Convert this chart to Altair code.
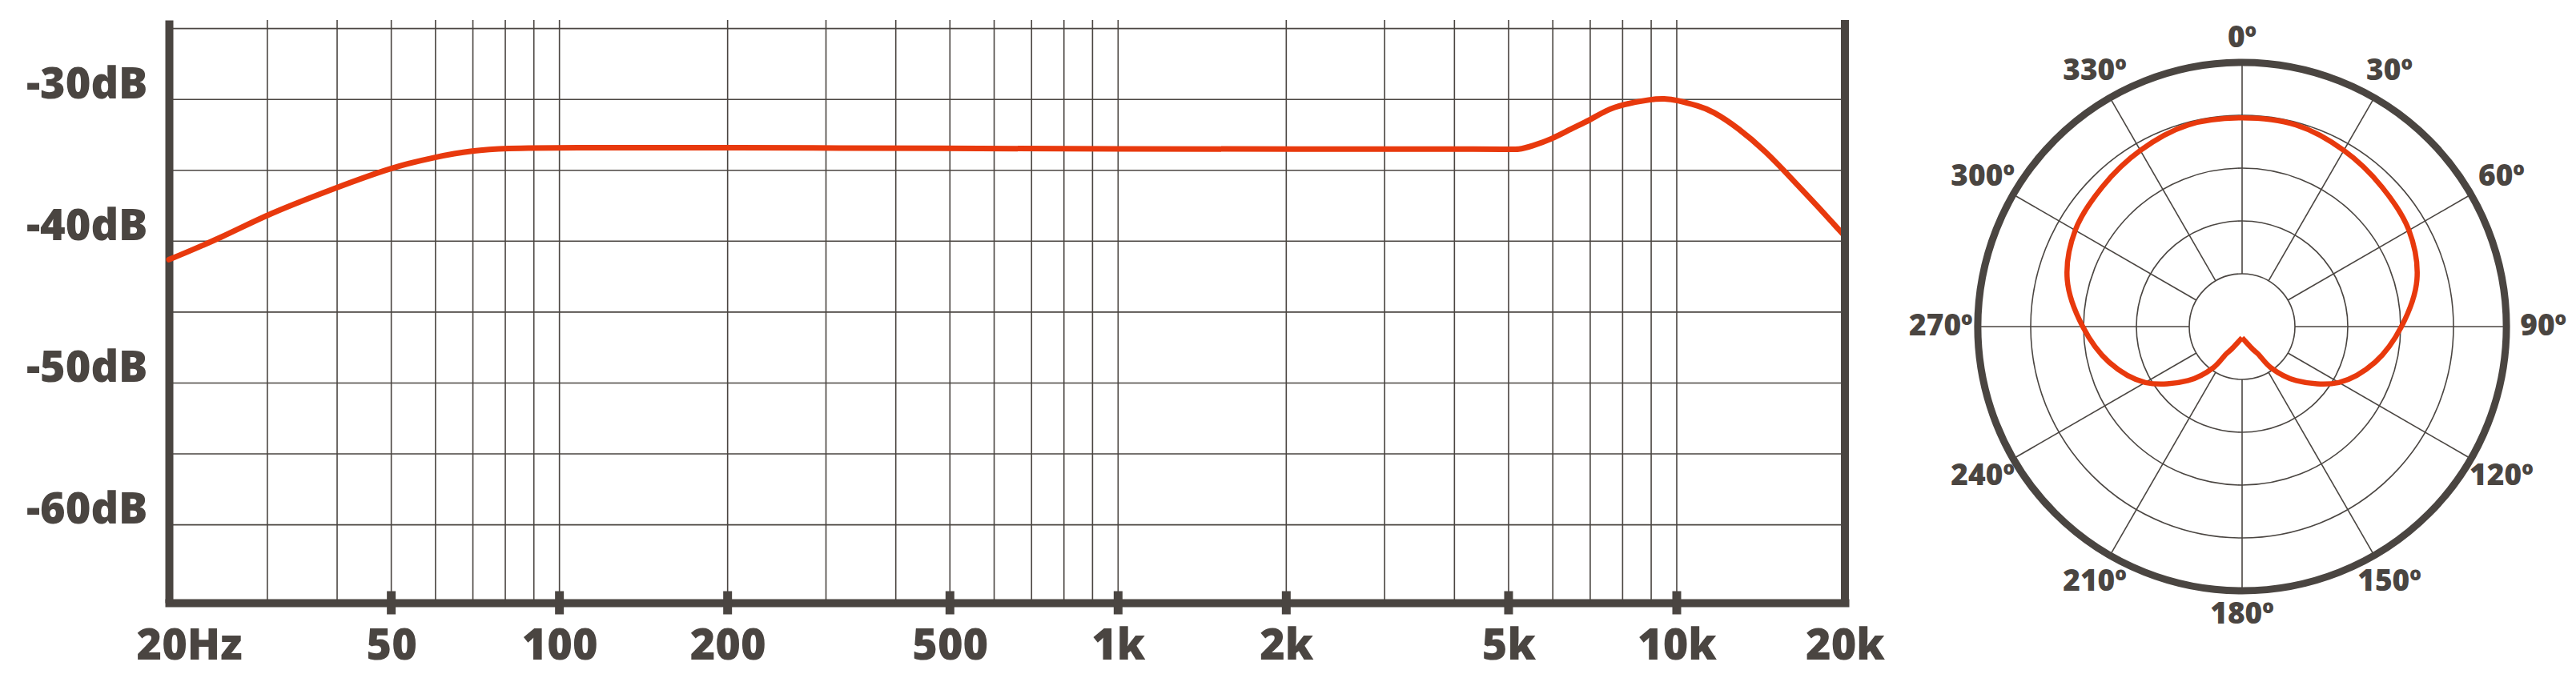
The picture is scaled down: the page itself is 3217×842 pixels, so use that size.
import altair as alt
import pandas as pd

INK = "#4a4541"
RED = "#e8390d"
FONT = "Open Sans"

# frequency response (Hz, dB)
freq_hz = [20, 25, 30, 40, 50, 60, 70, 80, 100, 200, 500, 1000, 2000, 5000,
           5200, 5500, 6000, 6450, 7000, 7450, 8000, 9000, 9500, 10000, 10950,
           11560, 12900, 14400, 16070, 17950, 20000]
level_db = [-41.3, -39.7, -38.1, -36.2, -34.8, -34.05, -33.6, -33.45, -33.4,
            -33.4, -33.45, -33.5, -33.5, -33.5, -33.56, -33.3, -32.77, -32.1,
            -31.45, -30.79, -30.36, -29.98, -29.94, -30.04, -30.47, -30.79,
            -32.02, -33.63, -35.6, -37.62, -39.65]

grid_freqs = [30, 40, 50, 60, 70, 80, 90, 100,
              200, 300, 400, 500, 600, 700, 800, 900, 1000,
              2000, 3000, 4000, 5000, 6000, 7000, 8000, 9000, 10000]
grid_db = [-25, -30, -35, -40, -45, -50, -55, -60]
label_freqs = [20, 50, 100, 200, 500, 1000, 2000, 5000, 10000, 20000]
tick_freqs = [50, 100, 200, 500, 1000, 2000, 5000, 10000]
label_db = [-30, -40, -50, -60]
DB_MIN, DB_MAX = -65.5, -24.4

# polar pattern, right half (degrees, relative radius; outer ring = 1)
polar_angles = [0, 15, 30, 45, 60, 75, 90, 105, 120, 135, 145, 150, 155, 165, 180]
polar_radius = [0.79, 0.79, 0.77, 0.748, 0.729, 0.685, 0.603, 0.521, 0.423,
                0.289, 0.19, 0.118, 0.094, 0.062, 0.042]
ring_radius = [0.2, 0.4, 0.6, 0.8]
spoke_angles = [0, 30, 60, 90, 120, 150, 180, 210, 240, 270, 300, 330]
spoke_labels = ["0º", "30º", "60º", "90º", "120º", "150º", "180º",
                "210º", "240º", "270º", "300º", "330º"]

# ---- frequency response ----
xs = alt.Scale(type="log", domain=[20, 20000], nice=False)
ys = alt.Scale(domain=[DB_MIN, DB_MAX], nice=False, zero=False)

x_axis = alt.Axis(
    values=label_freqs,
    labelExpr="datum.value == 20 ? '20Hz' : datum.value >= 1000 ? (datum.value / 1000) + 'k' : datum.value + ''",
    grid=False, ticks=False, title=None,
    domainWidth=10, domainColor=INK, domainCap="square",
    labelFont=FONT, labelFontSize=54, labelFontWeight=800, labelColor=INK,
    labelBaseline="alphabetic", labelPadding=70, labelFlush=False,
    labelOverlap=False,
    labelOffset={"condition": {"test": "datum.value == 20", "value": 25}, "value": 0},
)
y_axis = alt.Axis(
    values=label_db,
    labelExpr="datum.value + 'dB'",
    grid=False, ticks=False, title=None,
    domainWidth=10, domainColor=INK,
    labelFont=FONT, labelFontSize=54, labelFontWeight=800, labelColor=INK,
    labelBaseline="alphabetic", labelPadding=27, labelOffset=-2,
)

fx = alt.X("freq:Q", scale=xs, axis=x_axis)
fy = alt.Y("db:Q", scale=ys, axis=y_axis)

vgrid = alt.Chart(pd.DataFrame({"freq": grid_freqs})).mark_rule(
    color=INK, strokeWidth=1.6).encode(x=fx)
hgrid = alt.Chart(pd.DataFrame({"db": grid_db})).mark_rule(
    color=INK, strokeWidth=1.6).encode(y=fy)
border = alt.Chart(pd.DataFrame({"freq": [20000]})).mark_rule(
    color=INK, strokeWidth=10).encode(x=fx)
ticks = alt.Chart(pd.DataFrame({"freq": tick_freqs, "db": [DB_MIN] * len(tick_freqs)})).mark_tick(
    orient="vertical", size=29, thickness=11, color=INK, opacity=1).encode(x=fx, y=fy)
curve = alt.Chart(pd.DataFrame({"freq": freq_hz, "db": level_db})).mark_line(
    color=RED, strokeWidth=7, interpolate="basis", strokeCap="round").encode(x=fx, y=fy)

freq = alt.layer(vgrid, hgrid, curve, border, ticks).properties(width=2093, height=728)

# ---- polar pattern ----
HALF = 383
DOM = HALF / 330
ps = alt.Scale(domain=[-DOM, DOM], nice=False, zero=False)
rs = alt.Scale(type="linear", domain=[0, DOM], range=[0, HALF])

rings = alt.Chart(pd.DataFrame({"r": ring_radius})).mark_arc(
    theta=0, theta2=6.2832, filled=False, color=INK, strokeWidth=1.6).encode(
    radius=alt.Radius("r:Q", scale=rs, stack=False))
outer = alt.Chart(pd.DataFrame({"r": [1.0]})).mark_arc(
    theta=0, theta2=6.2832, filled=False, color=INK, strokeWidth=9).encode(
    radius=alt.Radius("r:Q", scale=rs, stack=False))

spokes = alt.Chart(pd.DataFrame({"angle": spoke_angles})).transform_calculate(
    rad="datum.angle * PI / 180",
).transform_calculate(
    x="0.2 * sin(datum.rad)", y="0.2 * cos(datum.rad)",
    x2="sin(datum.rad)", y2="cos(datum.rad)",
).mark_rule(color=INK, strokeWidth=1.6).encode(
    x=alt.X("x:Q", scale=ps, axis=None), y=alt.Y("y:Q", scale=ps, axis=None),
    x2="x2:Q", y2="y2:Q")

labels = alt.Chart(pd.DataFrame({"angle": spoke_angles, "label": spoke_labels})).transform_calculate(
    rad="datum.angle * PI / 180",
).transform_calculate(
    lr="1.09 + 0.05 * abs(sin(datum.rad))",
).transform_calculate(
    lx="datum.lr * sin(datum.rad)", ly="datum.lr * cos(datum.rad)",
).mark_text(font=FONT, fontSize=37, fontWeight=800, color=INK,
            align="center", baseline="middle").encode(
    x=alt.X("lx:Q", scale=ps, axis=None), y=alt.Y("ly:Q", scale=ps, axis=None),
    text="label:N")

left_angles = [-a for a in reversed(polar_angles)]
left_radius = list(reversed(polar_radius))
pattern_df = pd.DataFrame({
    "angle": left_angles + polar_angles[1:],
    "r": left_radius + polar_radius[1:],
})
pattern = alt.Chart(pattern_df).transform_calculate(
    rad="datum.angle * PI / 180",
).transform_calculate(
    x="datum.r * sin(datum.rad)", y="datum.r * cos(datum.rad)",
).mark_line(color=RED, strokeWidth=6.5, interpolate="catmull-rom").encode(
    x=alt.X("x:Q", scale=ps, axis=None), y=alt.Y("y:Q", scale=ps, axis=None),
    order="angle:Q")

polar = alt.layer(rings, spokes, outer, pattern, labels).properties(
    width=2 * HALF, height=2 * HALF)

chart = alt.hconcat(freq, polar, spacing=30).properties(
    padding={"left": 24, "top": 12, "right": 0, "bottom": 12}
).configure_view(strokeWidth=0)

chart.save("out.html", embed_options={"renderer": "svg", "actions": False})
